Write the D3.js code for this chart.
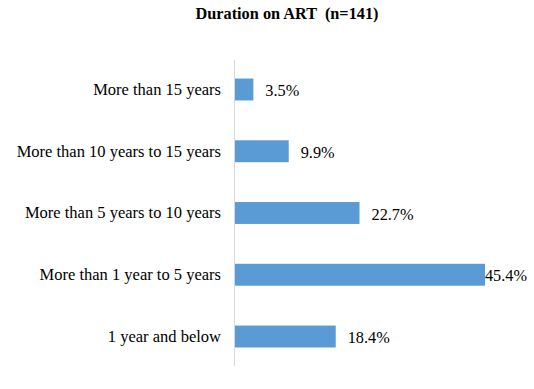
<!DOCTYPE html>
<html>
<head>
<meta charset="utf-8">
<script src="https://cdn.jsdelivr.net/npm/d3@7"></script>
<style>
	html, body { margin: 0; padding: 0; background: #fff; }
	svg { display: block; font-family: "Liberation Serif", "Times New Roman", serif; }
</style>
</head>
<body>
<div id="chart"></div>
<script>
var title = "Duration on ART  (n=141)";
var categories = [
	"More than 15 years",
	"More than 10 years to 15 years",
	"More than 5 years to 10 years",
	"More than 1 year to 5 years",
	"1 year and below"
];
var values = [3.5, 9.9, 22.7, 45.4, 18.4];

var width = 534,
	height = 389,
	margin = {top: 60, right: 7, bottom: 23, left: 234};

var svg = d3.select("#chart").append("svg")
	.attr("width", width)
	.attr("height", height);

svg.append("text")
	.attr("x", 287)
	.attr("y", 19)
	.attr("text-anchor", "middle")
	.attr("font-weight", "bold")
	.attr("font-size", 16.3)
	.attr("fill", "#000")
	.style("white-space", "pre")
	.text(title);

var x = d3.scaleLinear()
	.domain([0, 45.4])
	.range([margin.left, 485]);

var y = d3.scaleBand()
	.domain(categories)
	.range([margin.top, height - margin.bottom])
	.paddingInner(0.645)
	.paddingOuter(0.3);

var g = svg.append("g");

g.selectAll("rect")
	.data(values)
	.join("rect")
	.attr("x", x(0) + 1)
	.attr("y", function (d, i) { return y(categories[i]); })
	.attr("width", function (d) { return x(d) - x(0) - 1; })
	.attr("height", y.bandwidth())
	.attr("fill", "#5B9BD5");

// vertical axis line, no ticks
g.append("line")
	.attr("x1", x(0) + 0.5)
	.attr("x2", x(0) + 0.5)
	.attr("y1", margin.top)
	.attr("y2", height - margin.bottom)
	.attr("stroke", "#D9D9D9")
	.attr("stroke-width", 1);

var yAxis = d3.axisLeft(y).tickSize(0).tickPadding(13);
var ya = svg.append("g")
	.attr("transform", "translate(" + x(0) + ",0)")
	.call(yAxis)
	.attr("font-family", null)
	.attr("font-size", null);
ya.select(".domain").remove();
ya.selectAll("text")
	.attr("font-size", 16.5)
	.attr("fill", "#000");

// data labels, kept inside the plot area like Excel
var rightLimit = 527;
g.selectAll(".lbl")
	.data(values)
	.join("text")
	.attr("class", "lbl")
	.attr("font-size", 16.3)
	.attr("fill", "#000")
	.attr("dy", "0.35em")
	.attr("y", function (d, i) { return y(categories[i]) + y.bandwidth() / 2 + 1; })
	.text(function (d) { return d.toFixed(1) + "%"; })
	.attr("x", function (d) {
		var w = this.getComputedTextLength();
		return Math.min(x(d) + 12, rightLimit - w);
	});
</script>
</body>
</html>
